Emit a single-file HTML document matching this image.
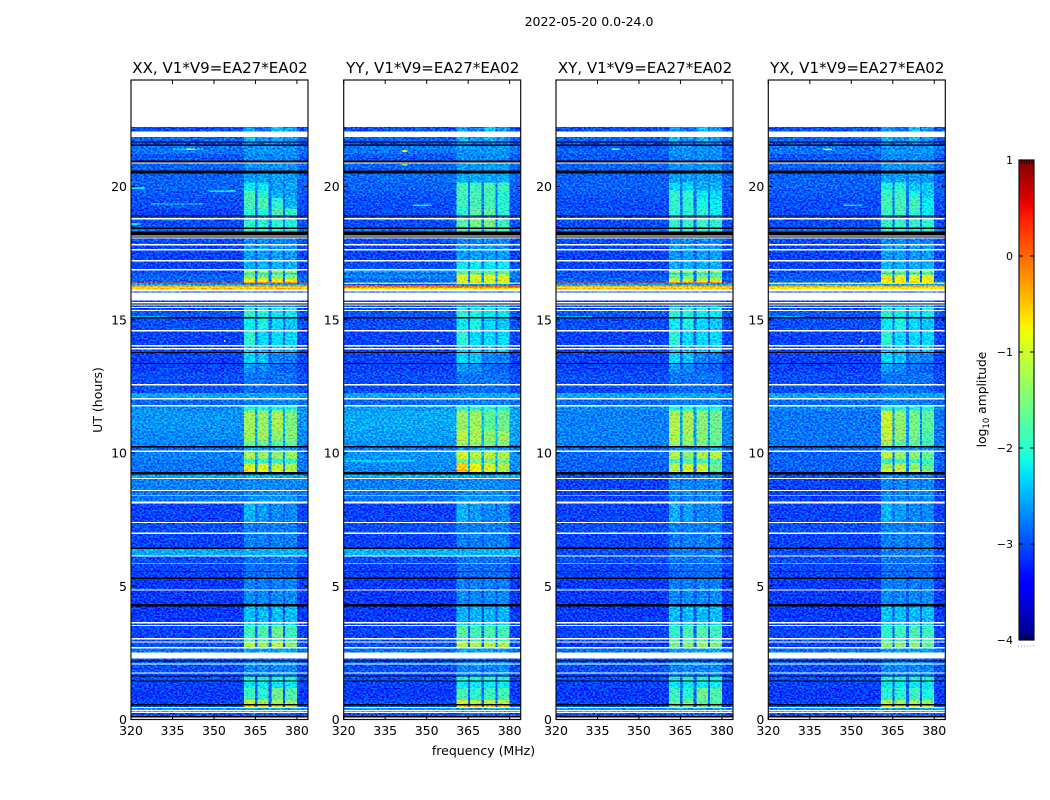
<!DOCTYPE html>
<html lang="en">
<head>
<meta charset="utf-8">
<title>2022-05-20 0.0-24.0</title>
<style>
html,body{margin:0;padding:0;background:#fff;width:1050px;height:800px;overflow:hidden}
svg{display:block}
text{font-family:"DejaVu Sans","Liberation Sans",sans-serif;fill:#000}
</style>
</head>
<body>
<svg id="chart" width="1050" height="800" viewBox="0 0 1050 800" xmlns="http://www.w3.org/2000/svg">
<defs>
<filter id="pixel-noise" filterUnits="userSpaceOnUse" x="0" y="0" width="1050" height="800" color-interpolation-filters="sRGB">
<feTurbulence type="fractalNoise" baseFrequency="0.45 0.6" numOctaves="1" seed="7" result="t"/>
<feColorMatrix in="t" type="matrix" values="0 0 0 0 0.5 1 0 0 0 0 0 0 0 0 0.5 0 0 0 0 1" result="g"/>
<feComponentTransfer in="g" result="n">
<feFuncR type="linear" slope="3" intercept="-1"/>
<feFuncG type="linear" slope="3" intercept="-1"/>
<feFuncB type="linear" slope="3" intercept="-1"/>
</feComponentTransfer>
<feComposite in="SourceGraphic" in2="n" operator="arithmetic" k1="0" k2="1" k3="0.5" k4="-0.25"/>
</filter>
</defs>
</svg>
<script>
const W = 'flagged';
const K = 'zero';
const panelTitles = ['XX, V1*V9=EA27*EA02','YY, V1*V9=EA27*EA02','XY, V1*V9=EA27*EA02','YX, V1*V9=EA27*EA02'];
const figureTitle = '2022-05-20 0.0-24.0';
const xAxisTitle = 'frequency (MHz)';
const yAxisTitle = 'UT (hours)';
const xTicks = [320,335,350,365,380];
const yTicks = [0,5,10,15,20];
const colorTicks = [1,0,-1,-2,-3,-4];
const bandEdges = [[360.8,364.9],[365.7,369.8],[370.8,374.9],[375.6,380]];

// UT hour edges of the time rows, top to bottom
const utEdges = [22.24,22.06,21.87,21.70,21.66,21.57,21.53,21.23,20.97,20.91,
20.86,20.60,20.50,20.15,19.85,19.58,19.17,18.91,18.87,18.82,
18.76,18.46,18.40,18.31,18.16,18.12,18.08,18.05,17.84,17.79,
17.65,17.60,17.24,17.19,16.90,16.85,16.77,16.70,16.55,16.40,
16.34,16.30,16.25,16.19,16.13,16.06,16.02,15.72,15.67,15.62,
15.57,15.54,15.48,15.44,15.37,15.33,15.11,15.05,14.62,14.57,
14.06,14.00,13.94,13.89,13.79,13.76,13.38,13.34,13.02,12.59,
12.54,12.26,12.07,12.01,11.81,11.75,11.60,10.85,10.48,10.27,
10.21,10.10,10.03,9.80,9.61,9.39,9.28,9.20,9.07,9.03,
8.62,8.57,8.43,8.40,8.19,8.11,7.42,7.38,7.01,6.97,
6.45,6.39,6.15,6.11,5.88,5.85,5.58,5.55,5.32,5.27,
4.87,4.84,4.33,4.25,3.65,3.60,3.54,3.50,3.05,3.00,
2.92,2.89,2.72,2.66,2.51,2.29,2.21,2.17,2.10,2.06,
1.76,1.72,1.65,1.61,1.46,1.42,1.18,0.73,0.58,0.52,
0.47,0.43,0.36,0.32,0.28,0.24,0.13,0.07,0.02,0];

// log10 amplitude per row: [background, band levels...] (one band value means all four)
const xxLevels = [
[-3.0,-2.6,-2.8,-2.4,-2.6],W,[-2.9,-2.45,-2.6,-2.45,-2.6],K,[-3.0,-2.8],K,[-2.8,-2.65],[-2.95,-2.7],K,W,
[-2.9,-2.65],K,[-2.9,-2.6],[-2.9,-2.2,-2.2,-2.6,-2.55],[-2.95,-1.85,-2.0,-2.5,-2.6],[-3.0,-1.85,-1.8,-2.0,-2.5],[-3.05,-2.0,-2.05,-1.8,-1.95],K,[-3,-2.7],W,
[-3,-2.0,-2.0,-2.0,-2.1],K,[-2.85,-2.0],K,W,K,W,[-3,-2.7],W,[-3.05,-2.6],
W,[-3.05,-2.6],W,[-3.05,-2.5],W,[-3,-1.0],[-3,-2.2],[-2.9,-1.5],[-2.9,-0.8],[0.2,0.2],
[-2.6,-2.6],[-0.15,-0.15],[-0.75,-0.75],[-0.45,-0.45],W,[-3,-3],W,[-3.05,-2.8],W,K,
W,[-3,-2.6],W,[-3,-2.1],W,[-2.95,-2.0,-2.1,-2.2,-2.2],K,[-3,-2.2,-2.1,-2.3,-2.4],W,[-3.05,-2.0,-2.3,-2.3,-2.3],
W,[-3.05,-2.5],W,[-3.05,-2.4],K,[-3.05,-2.3,-2.4,-2.7,-2.75],K,[-3.05,-2.6,-2.7,-2.85,-2.9],[-3,-2.8],W,
[-3,-2.85],[-2.55,-2.55],W,[-2.85,-2.75],W,[-2.7,-2.1],[-2.65,-1.3,-1.35,-1.25,-1.5],[-2.7,-1.3,-1.3,-1.4,-1.45],[-2.75,-1.65,-1.65,-1.75,-1.7],K,
[-2.9,-2.6],W,[-2.75,-1.2,-1.3,-1.35,-1.3],[-2.8,-1.9],[-2.8,-1.0,-1.0,-1.1,-1.25],[-2.8,-0.6,-0.8,-0.95,-1.1],K,[-2.55,-2.5],W,[-2.75,-2.7],
W,[-2.8,-2.7],W,[-2.8,-2.65],W,[-3.05,-2.5,-2.6,-2.7,-2.7],W,[-3,-2.75],W,[-3.05,-2.75],
K,[-2.55,-2.5],W,[-3,-2.8],W,[-3.05,-2.85],K,[-3.05,-2.85],K,[-3.1,-2.75],
W,[-3.1,-2.7],K,[-3.1,-2.45],W,[-3.05,-2.3],W,[-3.05,-1.9,-1.8,-1.6,-1.9],W,[-3,-1.9],
W,[-3,-1.2,-1.3,-1.1,-1.4],W,[-2.85,-2.6],W,[-3,-2.9],K,[-2.9,-2.7],W,[-3,-2.7],
W,[-3,-2.7],K,[-3,-2.1],K,[-3.05,-2.2],[-3.1,-1.9,-2,-1.6,-1.8],[-3.05,-1.1,-1.3,-1.3,-1.4],K,[-3,-0.6,-0.9,-0.9,-1.0],
W,[-2.6,-2.6],W,[-2.4,-2.4],W,[-3,-2.9],K,W,[-3,-3]
];

// per-polarisation row changes: [rowIndex, background, band levels...]
const yyChanges = [
[10,-2.9,-2.6],[12,-2.85,-2.55],[13,-2.9,-1.85,-1.9,-1.8,-1.9],[14,-2.95,-1.85,-1.85,-1.85,-2.0],[15,-3,-1.9,-1.85,-1.85,-2.0],[16,-3,-2.0,-1.7,-1.7,-2.0],
[20,-3,-1.75,-1.55,-1.55,-1.9],[22,-2.8,-1.8],[33,-3,-2.2],[35,-2.6,-1.6],[36,-2.9,-1.8],[37,-2.7,-0.9],[38,-2.9,-1.0],[39,-1.2,-1.0],[40,-3,-2.6],[41,0.2,0.2],[42,-0.2,-0.2],[43,-0.7,-0.7],
[75,-2.6,-2.0],[76,-2.55,-1.35,-1.3,-1.7,-1.6],[77,-2.6,-1.15,-1.25,-1.4,-1.35],[78,-2.65,-1.3,-1.35,-1.55,-1.45],[80,-2.8,-2.6],[82,-2.65,-0.95,-1.15,-1.1,-1.2],[83,-2.65,-1.5],[84,-2.7,-0.5,-0.8,-1.0,-1.2],[85,-2.7,-0.45,-0.85,-1.0,-1.15],[87,-2.5,-2.5],
[101,-2.5,-2.5],[113,-3.1,-2.5],[117,-3.05,-1.7,-1.85,-1.8,-1.85],[121,-3,-1.1,-1.2,-1.2,-1.2],[136,-3.1,-1.85,-2,-1.9,-1.85],[137,-3,-1,-1.2,-1.2,-1.2],[139,-3,-0.6]
];
const xyChanges = [
[6,-2.9,-2.65],[13,-2.9,-2.3,-2.3,-2.5,-2.5],[14,-2.95,-1.95,-2.0,-2.2,-2.3],[15,-3,-1.95,-2.0,-2.1,-2.2],[16,-3,-2.0,-2.0,-2.0,-2.2],[20,-3,-1.95,-1.95,-1.9,-2.0],
[37,-2.95,-1.6],[38,-2.9,-1.0],
[76,-2.75,-1.2,-1.25,-1.45,-1.6],[77,-2.75,-1.2,-1.3,-1.45,-1.6],[78,-2.75,-1.3,-1.4,-1.5,-1.7],[80,-2.9,-2.6],[82,-2.85,-1.1,-1.4,-1.2,-1.1],[83,-2.9,-1.8],[84,-2.9,-1.2,-1.1,-1.1,-1.6],[85,-2.9,-1.05,-0.9,-0.95,-1.7],
[87,-3,-2.7],[89,-3.05,-2.7],[91,-3.05,-2.7],[93,-3.05,-2.7],[101,-3,-2.75],[117,-3.05,-1.95,-1.85,-1.75,-1.9],[121,-3.1,-1.5,-1.4,-1.3,-1.5],[137,-3.05,-1.7,-1.6,-1.7,-1.8],[139,-3,-1.4]
];
const yxChanges = [
[13,-2.9,-2.1,-2.0,-2.4,-2.4],[14,-2.95,-1.9,-1.9,-2.1,-2.4],[15,-3,-1.85,-1.85,-1.85,-2.2],[16,-3,-1.95,-1.85,-1.95,-2.2],[20,-3,-1.95,-1.95,-1.95,-2.0],
[35,-3,-1.2],[37,-2.95,-0.9],[38,-2.9,-0.7],[39,-0.8,-0.8],[41,-0.1,-0.1],[42,-0.7,-0.7],[43,-0.8,-0.8],
[76,-2.8,-1.05,-1.4,-1.55,-1.7],[77,-2.8,-1.1,-1.4,-1.55,-1.8],[78,-2.8,-1.3,-1.7,-1.7,-1.9],[82,-2.9,-1.1,-1.3,-1.35,-1.6],[83,-2.9,-1.9],[84,-2.9,-1.25,-1.2,-1.4,-1.7],[85,-2.9,-0.75,-0.95,-1.0,-1.4],
[87,-3,-2.7],[89,-3.05,-2.7],[91,-3.05,-2.7],[93,-3.05,-2.7],[101,-3,-2.75],[117,-3.05,-2.0,-1.9,-1.8,-1.9],[121,-3.05,-1.4,-1.4,-1.4,-1.6],[136,-3.1,-2.0,-2.0,-1.9,-2.1],[137,-3.05,-1.2,-1.3,-1.3,-1.4]
];

// narrow interference streaks: [startMHz, endMHz, UT hour, level]
const xxStreaks = [[335,346,21.4,-2.4],[340,343,21.4,-1.0],[348,358,19.84,-2.3],[327,346,19.35,-2.6],[320,325,19.95,-2.3],[320,323,18.6,-2.2],[353.6,354.2,14.2,-1.2],[320,333,15.1,-2.5]];
const yyStreaks = [[341,343,21.34,-1.0],[341,343,20.82,-1.4],[345,352,19.3,-2.2],[320,346,9.7,-2.4],[353.6,354.2,14.2,-1.2]];
const xyStreaks = [[340,343,21.4,-1.6],[353.6,354.2,14.2,-1.4],[320,333,15.1,-2.5]];
const yxStreaks = [[340,343,21.4,-1.0],[347,354,19.3,-2.3],[353.6,354.2,14.2,-1.4],[320,333,15.1,-2.5]];

const polarisationNames = ['xx','yy','xy','yx'];
const polarisationChanges = [[],yyChanges,xyChanges,yxChanges];
const polarisationStreaks = [xxStreaks,yyStreaks,xyStreaks,yxStreaks];

const svg = document.getElementById('chart');
const NS = 'http://www.w3.org/2000/svg';
const panelLeft = [131,343.7,556,768.3];
const plotW = 177, plotTop = 80, plotBottom = 719.5;
const xMin = 320, xMax = 384, yMin = 0, yMax = 24;
const colorMin = -4, colorMax = 1;
const cbX = 1019, cbW = 15, cbTop = 160, cbBottom = 640;
const gapLift = 0.15;

function xScale(p, f){ return panelLeft[p] + (f - xMin) / (xMax - xMin) * plotW; }
function yScale(h){ return plotBottom - (h - yMin) / (yMax - yMin) * (plotBottom - plotTop); }
function cbScale(v){ return cbBottom - (v - colorMin) / (colorMax - colorMin) * (cbBottom - cbTop); }
function interp(pts, t){
  for (let i = 1; i < pts.length; i++) {
    if (t <= pts[i][0]) {
      const a = pts[i-1], b = pts[i];
      return a[1] + (b[1] - a[1]) * (t - a[0]) / (b[0] - a[0]);
    }
  }
  return pts[pts.length-1][1];
}
function jet(v){
  const t = Math.max(0, Math.min(1, (v - colorMin) / (colorMax - colorMin)));
  const r = interp([[0,0],[.35,0],[.66,1],[.89,1],[1,.5]], t);
  const g = interp([[0,0],[.125,0],[.375,1],[.64,1],[.91,0],[1,0]], t);
  const b = interp([[0,.5],[.11,1],[.34,1],[.65,0],[1,0]], t);
  return 'rgb(' + Math.round(r*255) + ',' + Math.round(g*255) + ',' + Math.round(b*255) + ')';
}
function mk(parent, tag, attrs, txt){
  const el = document.createElementNS(NS, tag);
  for (const k in attrs) el.setAttribute(k, attrs[k]);
  if (txt !== undefined) el.textContent = txt;
  parent.appendChild(el);
  return el;
}
function levelsFor(p){
  const rows = xxLevels.slice();
  polarisationChanges[p].forEach(function(c){ rows[c[0]] = c.slice(1); });
  return rows;
}
function cell(parent, p, f0, f1, t0, t1, level){
  const x0 = xScale(p, f0), x1 = xScale(p, f1), y0 = yScale(t0), y1 = yScale(t1);
  const el = mk(parent, 'rect', {x:x0, y:y0, width:x1-x0, height:y1-y0, fill:jet(level), 'shape-rendering':'crispEdges'});
  
  
}

/* figure labels */
const supTitle = mk(svg, 'text', {x:589, y:26, 'text-anchor':'middle', 'font-size':'12.5'}, figureTitle);


const xTitle = mk(svg, 'text', {x:483.5, y:755, 'text-anchor':'middle', 'font-size':'12.5'}, xAxisTitle);


const yTitle = mk(svg, 'text', {x:0, y:0, transform:'translate(102,400) rotate(-90)', 'text-anchor':'middle', 'font-size':'12.5'}, yAxisTitle);



/* panels */
panelTitles.forEach(function(title, p){
  const panel = mk(svg, 'g', {});
  
  

  const bgRect = mk(panel, 'rect', {x:panelLeft[p], y:plotTop, width:plotW, height:plotBottom-plotTop, fill:'#fff'});
  
  

  const clip = mk(svg.querySelector('defs'), 'clipPath', {id:'clip-' + p});
  mk(clip, 'rect', {x:panelLeft[p], y:yScale(utEdges[0]), width:plotW, height:plotBottom-yScale(utEdges[0])});

  const clipWrap = mk(panel, 'g', {'clip-path':'url(#clip-' + p + ')'});
  
  
  const heat = mk(clipWrap, 'g', {filter:'url(#pixel-noise)'});
  
  
  const flags = mk(panel, 'g', {});
  
  

  const rows = levelsFor(p);
  rows.forEach(function(row, i){
    const t0 = utEdges[i], t1 = utEdges[i+1];
    if (row === W || row === K) {
      const f = mk(flags, 'rect', {x:xScale(p,xMin), y:yScale(t0), width:plotW, height:yScale(t1)-yScale(t0), fill:row === W ? '#fff' : '#000', 'shape-rendering':'crispEdges'});
      
      
      return;
    }
    const bg = row[0];
    let last = xMin;
    bandEdges.forEach(function(b, n){
      const v = row.length === 2 ? row[1] : row[n+1];
      const lift = n === 0 ? bg : Math.min(bg + gapLift, Math.max(bg, v));
      cell(heat, p, last, b[0], t0, t1, lift);
      cell(heat, p, b[0], b[1], t0, t1, v);
      last = b[1];
    });
    cell(heat, p, last, xMax, t0, t1, bg);
  });
  polarisationStreaks[p].forEach(function(s){
    cell(heat, p, s[0], s[1], s[2] + 0.035, s[2] - 0.035, s[3]);
  });

  const frame = mk(panel, 'rect', {x:panelLeft[p], y:plotTop, width:plotW, height:plotBottom-plotTop, fill:'none', stroke:'#111', 'stroke-width':'1.2'});
  
  

  const ttl = mk(panel, 'text', {x:panelLeft[p]+plotW/2+0.5, y:73, 'text-anchor':'middle', 'font-size':'15.05'}, title);
  
  

  xTicks.forEach(function(v){
    const x = xScale(p, v);
    const tb = mk(panel, 'line', {x1:x, x2:x, y1:plotBottom, y2:plotBottom-4, stroke:'#000'});
    
    
    const tt = mk(panel, 'line', {x1:x, x2:x, y1:plotTop, y2:plotTop+4, stroke:'#000'});
    
    
    const lb = mk(panel, 'text', {x:x, y:735, 'text-anchor':'middle', 'font-size':'12.5'}, String(v));
    
    
  });
  yTicks.forEach(function(v){
    const y = yScale(v);
    const tl = mk(panel, 'line', {x1:panelLeft[p], x2:panelLeft[p]+4, y1:y, y2:y, stroke:'#000'});
    
    
    const tr = mk(panel, 'line', {x1:panelLeft[p]+plotW, x2:panelLeft[p]+plotW-4, y1:y, y2:y, stroke:'#000'});
    
    
    const lb = mk(panel, 'text', {x:panelLeft[p]-4, y:y+4.5, 'text-anchor':'end', 'font-size':'12.5'}, String(v));
    
    
  });
});

/* colour bar */
const cb = mk(svg, 'g', {});


const grad = mk(svg.querySelector('defs'), 'linearGradient', {id:'jet-gradient', x1:0, y1:0, x2:0, y2:1});
for (let i = 0; i <= 50; i++) {
  mk(grad, 'stop', {offset:(i/50), 'stop-color':jet(colorMax - (colorMax-colorMin)*i/50)});
}
const cbRect = mk(cb, 'rect', {x:cbX, y:cbTop, width:cbW, height:cbBottom-cbTop, fill:'url(#jet-gradient)', stroke:'#111', 'stroke-width':'1.2'});


colorTicks.forEach(function(v){
  const y = cbScale(v);
  const a = mk(cb, 'line', {x1:cbX, x2:cbX+4, y1:y, y2:y, stroke:'#000'});
  
  
  const b = mk(cb, 'line', {x1:cbX+cbW, x2:cbX+cbW-4, y1:y, y2:y, stroke:'#000'});
  
  
  const lbl = mk(cb, 'text', {x:cbX-6, y:y+4, 'text-anchor':'end', 'font-size':'11'}, v < 0 ? '\u2212' + Math.abs(v) : String(v));
  
  
});
[colorMax, colorMin].forEach(function(v){
  const y = cbScale(v);
  const dir = v === colorMax ? 1 : -1;
  for (let i = 1; i <= 5; i++) {
    const m = mk(cb, 'line', {x1:cbX+i*2.6, x2:cbX+i*2.6, y1:y, y2:y+dir*4, stroke:'#000', 'stroke-width':'0.8'});
    
    
  }
});
const dots = mk(cb, 'line', {x1:cbX-1, x2:cbX+cbW+1, y1:646, y2:646, stroke:'#999', 'stroke-width':'1', 'stroke-dasharray':'1 2'});


const cbTitle = mk(cb, 'text', {x:0, y:0, transform:'translate(986,399.5) rotate(-90)', 'text-anchor':'middle', 'font-size':'12.3'});


const cbLog = mk(cbTitle, 'tspan', {}, 'log');


const cbBase = mk(cbTitle, 'tspan', {'font-size':'8.5', dy:'3'}, '10');


const cbUnit = mk(cbTitle, 'tspan', {dy:'-3'}, ' amplitude');


</script>
</body>
</html>
